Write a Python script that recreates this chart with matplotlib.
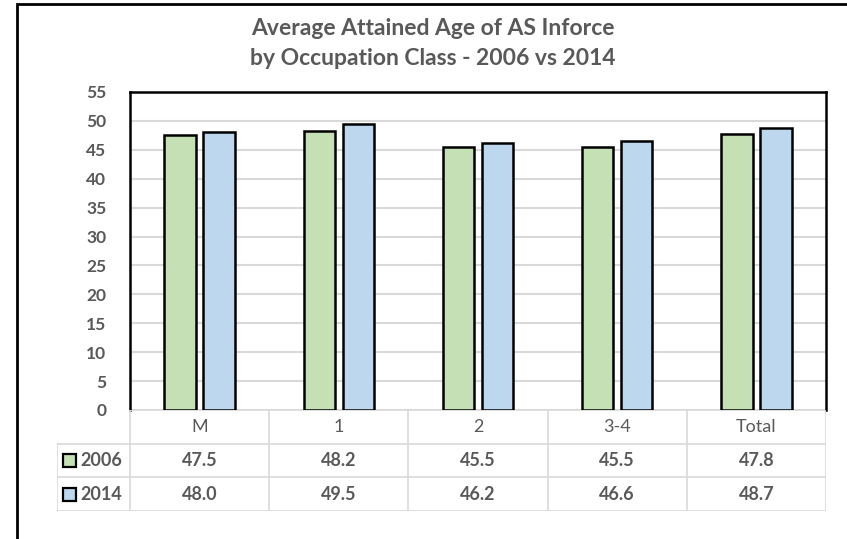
import matplotlib.pyplot as plt
from matplotlib.patches import Rectangle

# chart data
categories = ["M", "1", "2", "3-4", "Total"]
series_names = ["2006", "2014"]
values_2006 = [47.5, 48.2, 45.5, 45.5, 47.8]
values_2014 = [48.0, 49.5, 46.2, 46.6, 48.7]
colors = ["#c5e0b4", "#bdd7ee"]

TEXT = "#595959"
GRID = "#d9d9d9"
plt.rcParams['font.family'] = ['Lato', 'DejaVu Sans']

W, H = 847, 539
fig = plt.figure(figsize=(W / 100, H / 100), dpi=100)


def px_axes(x0, y0, x1, y1):
    # pixel box (top-left origin) -> figure axes
    return fig.add_axes([x0 / W, 1 - y1 / H, (x1 - x0) / W, (y1 - y0) / H])


# outer frame, only top and left edges are in view
fig.patches.append(Rectangle((17 / W, -0.1), 1.2, 1 - 4 / H + 0.1, transform=fig.transFigure,
                             fill=False, edgecolor="black", linewidth=2))

# main bar chart
left, right, top, bottom = 130, 826, 92, 410
ax = px_axes(left, top, right, bottom)
x = list(range(len(categories)))
bw = 0.225
gap = 0.055
ax.bar([i - (bw + gap) / 2 for i in x], values_2006, bw, color=colors[0],
       edgecolor="black", linewidth=1.8, zorder=3)
ax.bar([i + (bw + gap) / 2 for i in x], values_2014, bw, color=colors[1],
       edgecolor="black", linewidth=1.8, zorder=3)
ax.set_xlim(-0.5, len(categories) - 0.5)
ax.set_ylim(0, 55)
ax.set_yticks(range(0, 56, 5))
ax.set_xticks([])
ax.yaxis.grid(True, color=GRID, linewidth=1.5, zorder=0)
ax.tick_params(axis="y", length=0, pad=17, labelsize=12.5, labelcolor=TEXT)
for lab in ax.get_yticklabels():
    lab.set_fontweight("bold")
for side in ["top", "right", "left"]:
    ax.spines[side].set_linewidth(1.8)
ax.spines["bottom"].set_visible(False)

fig.text(433 / W, 1 - 35 / H, "Average Attained Age of AS Inforce", ha="center", va="baseline",
         fontsize=16.5, color=TEXT, fontweight="bold")
fig.text(433 / W, 1 - 65 / H, "by Occupation Class - 2006 vs 2014", ha="center", va="baseline",
         fontsize=16.5, color=TEXT, fontweight="bold")

# data table below the chart
unit = (right - left) / len(categories)
tleft, tbottom = 57, 511
tax = px_axes(tleft, bottom, right, tbottom)
x_start = -0.5 - (left - tleft) / unit
tax.set_xlim(x_start, len(categories) - 0.5)
tax.set_ylim(3, 0)
tax.axis("off")

lw = 1.2
# horizontal lines
tax.plot([-0.5, len(categories) - 0.5], [0, 0], color=GRID, lw=lw)
for yy in [1, 2, 3]:
    tax.plot([x_start, len(categories) - 0.5], [yy, yy], color=GRID, lw=lw)
# vertical lines
tax.plot([x_start, x_start], [1, 3], color=GRID, lw=lw)
for i in range(len(categories) + 1):
    tax.plot([i - 0.5, i - 0.5], [0, 3], color=GRID, lw=lw)

for i, c in enumerate(categories):
    tax.text(i, 0.5, c, ha="center", va="center", fontsize=13, color=TEXT)
for row, (name, vals, col) in enumerate(zip(series_names, [values_2006, values_2014], colors), start=1):
    tax.add_patch(Rectangle((x_start + 0.045, row + 0.31), 0.09, 0.38, facecolor=col,
                            edgecolor="black", linewidth=1.6))
    tax.text(x_start + 0.17, row + 0.5, name, ha="left", va="center", fontsize=13,
             color=TEXT, fontweight="bold")
    for i, v in enumerate(vals):
        tax.text(i, row + 0.5, f"{v:.1f}", ha="center", va="center", fontsize=13,
                 color=TEXT, fontweight="bold")

fig.savefig("out.png", dpi=100)
